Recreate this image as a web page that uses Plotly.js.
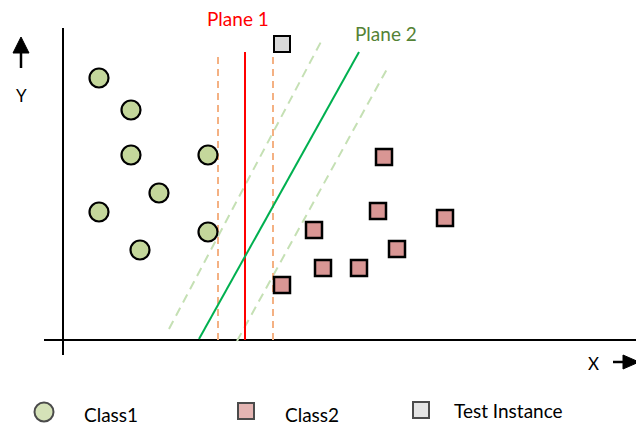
<!DOCTYPE html>
<html>
<head>
<meta charset="utf-8">
<script src="https://cdn.plot.ly/plotly-3.0.1.min.js"></script>
<style>html,body{margin:0;padding:0;background:#fff;}#chart{width:636px;height:425px;}</style>
</head>
<body>
<div id="chart"></div>
<script>
// Data (units: diagram units, origin at axes intersection)
var class1X = [3.6, 6.8, 6.8, 14.5, 9.6, 3.6, 7.7, 14.5];
var class1Y = [26.2, 23.0, 18.5, 18.5, 14.7, 12.8, 9.0, 10.8];
var class2X = [32.1, 31.5, 38.2, 25.1, 33.4, 26.0, 29.6, 21.9];
var class2Y = [18.3, 12.9, 12.2, 11.0, 9.1, 7.2, 7.2, 5.5];
var testX = [21.9];
var testY = [29.6];

// Plane 1 (vertical) and its margins
var plane1X = [18.2, 18.2];
var plane1Y = [0, 28.8];
var plane1MarginLeftX = [15.5, 15.5];
var plane1MarginRightX = [21.0, 21.0];
var plane1MarginY = [0, 28.8];

// Plane 2 (slanted) and its margins
var plane2X = [13.6, 29.6];
var plane2Y = [0.1, 28.8];
var plane2MarginLeftX = [10.6, 26.0];
var plane2MarginLeftY = [1.1, 30.2];
var plane2MarginRightX = [17.4, 32.4];
var plane2MarginRightY = [-0.1, 27.1];

// Axes
var xAxisLineX = [-1.9, 58];
var xAxisLineY = [0, 0];
var yAxisLineX = [0, 0];
var yAxisLineY = [-1.5, 31.2];

// Direction arrows
var yArrowStemX = [-4.2, -4.2];
var yArrowStemY = [27.2, 29.0];
var yArrowHeadX = [-5.0, -3.4, -4.2, -5.0];
var yArrowHeadY = [28.7, 28.7, 30.3, 28.7];
var xArrowStemX = [55.0, 56.2];
var xArrowStemY = [-2.2, -2.2];
var xArrowHeadX = [56.0, 56.0, 57.6, 56.0];
var xArrowHeadY = [-1.5, -2.9, -2.2, -1.5];

// Legend
var legendLabels = ["Class1", "Class2", "Test Instance"];
var legendSymbolX = [-1.9, 18.3, 35.8];
var legendSymbolY = [-7.2, -7.1, -7.0];
var legendTextX = [1.9, 22.0, 38.9];
var legendTextY = [-7.4, -7.4, -7.0];

var c1Fill = "#c4d79b", c2Fill = "#d99694", testFill = "#d9d9d9";
var FONT = "Lato, 'Liberation Sans', sans-serif";

function line(x, y, color, width, dash) {
  return {x: x, y: y, type: "scatter", mode: "lines", hoverinfo: "skip", showlegend: false,
    line: {color: color, width: width, dash: dash || "solid"}};
}

var traces = [
  line(xAxisLineX, xAxisLineY, "#000", 2),
  line(yAxisLineX, yAxisLineY, "#000", 2),
  line(plane2MarginLeftX, plane2MarginLeftY, "#c5e0b4", 2, "9px,6px"),
  line(plane2MarginRightX, plane2MarginRightY, "#c5e0b4", 2, "9px,6px"),
  line(plane1MarginLeftX, plane1MarginY, "#f4b183", 2, "7px,5px"),
  line(plane1MarginRightX, plane1MarginY, "#f4b183", 2, "7px,5px"),
  line(plane1X, plane1Y, "#ff0000", 2),
  line(plane2X, plane2Y, "#00b050", 2),
  line(yArrowStemX, yArrowStemY, "#000", 2.5),
  {x: yArrowHeadX, y: yArrowHeadY, type: "scatter", mode: "lines", fill: "toself", fillcolor: "#000",
    line: {color: "#000", width: 1}, hoverinfo: "skip", showlegend: false},
  line(xArrowStemX, xArrowStemY, "#000", 2.5),
  {x: xArrowHeadX, y: xArrowHeadY, type: "scatter", mode: "lines", fill: "toself", fillcolor: "#000",
    line: {color: "#000", width: 1}, hoverinfo: "skip", showlegend: false},
  {x: class1X, y: class1Y, type: "scatter", mode: "markers", name: "Class1", showlegend: false,
    marker: {symbol: "circle", size: 19, color: c1Fill, line: {color: "#000", width: 2.2}}},
  {x: class2X, y: class2Y, type: "scatter", mode: "markers", name: "Class2", showlegend: false,
    marker: {symbol: "square", size: 16, color: c2Fill, line: {color: "#000", width: 2.5}}},
  {x: testX, y: testY, type: "scatter", mode: "markers", name: "Test Instance", showlegend: false,
    marker: {symbol: "square", size: 16, color: testFill, line: {color: "#000", width: 2}}},
  {x: legendSymbolX, y: legendSymbolY, type: "scatter", mode: "markers", hoverinfo: "skip", showlegend: false,
    marker: {symbol: ["circle", "square", "square"], size: [19, 16, 16],
      color: [c1Fill, c2Fill, testFill], line: {color: "#000", width: 2}}}
];

var annotations = [
  {x: 17.5, y: 32.2, text: "Plane 1", showarrow: false, font: {family: FONT, size: 19, color: "#ff0000"}},
  {x: 32.3, y: 30.7, text: "Plane 2", showarrow: false, font: {family: FONT, size: 19, color: "#548235"}},
  {x: 53.0, y: -2.3, text: "X", showarrow: false, font: {family: FONT, size: 17, color: "#000"}},
  {x: -4.2, y: 24.5, text: "Y", showarrow: false, font: {family: FONT, size: 17, color: "#000"}}
];
for (var i = 0; i < legendLabels.length; i++) {
  annotations.push({x: legendTextX[i], y: legendTextY[i], text: legendLabels[i], showarrow: false,
    xanchor: "left", font: {family: FONT, size: 19, color: "#000"}});
}

var layout = {
  width: 636, height: 425,
  margin: {l: 0, r: 0, t: 0, b: 0, pad: 0},
  paper_bgcolor: "#fff", plot_bgcolor: "#fff",
  xaxis: {range: [-6.3, 57.3], visible: false, showgrid: false, zeroline: false, fixedrange: true},
  yaxis: {range: [-8.5, 34.0], visible: false, showgrid: false, zeroline: false, fixedrange: true},
  showlegend: false,
  annotations: annotations
};

Plotly.newPlot("chart", traces, layout, {displayModeBar: false, staticPlot: true});
</script>
</body>
</html>
